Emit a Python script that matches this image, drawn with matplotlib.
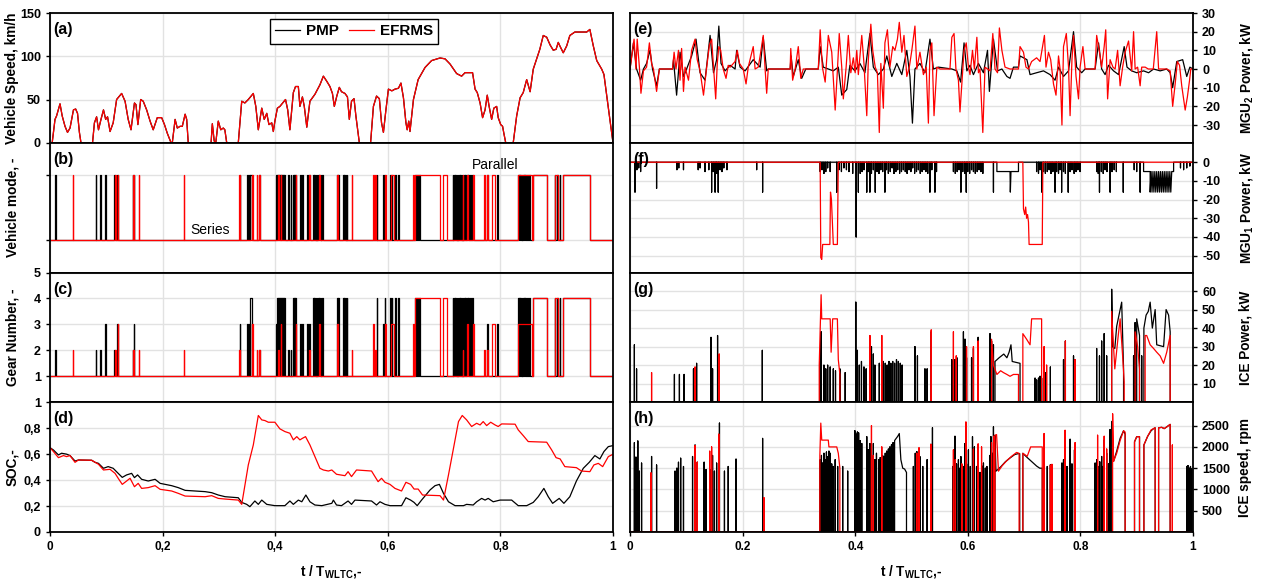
import numpy as np
import matplotlib
matplotlib.use("Agg")
import matplotlib.pyplot as plt

plt.rcParams["font.family"] = ["Liberation Sans", "DejaVu Sans"]
plt.rcParams["font.weight"] = "bold"
plt.rcParams["mathtext.fontset"] = "custom"
plt.rcParams["mathtext.rm"] = "Liberation Sans:bold"
plt.rcParams["mathtext.bf"] = "Liberation Sans:bold"
plt.rcParams["mathtext.default"] = "bf"
plt.rcParams["axes.unicode_minus"] = False

CYCLE_S = 1800.0  # WLTC duration, s

# ---------------- (a) vehicle speed, km/h (same for both strategies)
speed_s = [0, 7, 16, 21, 32, 39, 48, 56, 64, 75, 82, 88, 94, 99, 136, 142, 149, 155, 163, 171, 178, 184, 192, 202,
           213, 229, 240, 250, 259, 270, 275, 281, 290, 298, 309, 320, 330, 343, 357, 366, 375, 387, 391, 400, 407,
           416, 423, 432, 437, 442, 515, 519, 525, 530, 538, 546, 554, 559, 565, 602, 613, 623, 634, 650, 658, 666,
           677, 685, 693, 700, 709, 714, 719, 727, 735, 753, 760, 767, 778, 785, 794, 799, 807, 813, 821, 831, 847,
           863, 874, 885, 895, 903, 909, 917, 925, 932, 943, 951, 957, 964, 972, 978, 989, 1025, 1034, 1044, 1053,
           1060, 1066, 1074, 1082, 1093, 1103, 1114, 1122, 1130, 1138, 1142, 1147, 1151, 1162, 1177, 1199, 1220,
           1247, 1263, 1279, 1300, 1316, 1327, 1343, 1351, 1359, 1366, 1375, 1383, 1391, 1398, 1404, 1412, 1419,
           1428, 1433, 1441, 1447, 1451, 1457, 1481, 1492, 1503, 1513, 1524, 1535, 1545, 1556, 1566, 1577, 1588,
           1599, 1609, 1618, 1625, 1630, 1641, 1652, 1662, 1678, 1694, 1705, 1716, 1726, 1737, 1748, 1764, 1771,
           1780, 1790, 1800]
speed_kmh = [0, 0, 27, 31, 45, 31, 19, 12, 17, 38, 39, 34, 12, 0, 0, 23, 30, 15, 27, 38, 27, 30, 13, 23,
             50, 57, 48, 27, 15, 46, 44, 21, 50, 48, 38, 25, 15, 29, 29, 21, 11, 0, 0, 27, 17,
             19, 19, 33, 27, 0, 0, 22, 2, 0, 25, 15, 17, 15, 0, 0, 48, 46, 50, 57, 42, 15,
             40, 27, 34, 21, 23, 13, 25, 40, 42, 50, 38, 15, 58, 65, 65, 42, 53, 42, 18, 48, 56,
             67, 77, 71, 65, 57, 42, 54, 64, 59, 57, 53, 27, 48, 51, 31, 0, 0, 42, 54, 51,
             23, 12, 38, 62, 60, 62, 63, 69, 52, 23, 15, 25, 13, 50, 73, 87, 95,
             98, 97, 91, 80, 77, 81, 81, 81, 62, 58, 46, 29, 38, 55, 42, 27, 40,
             42, 29, 21, 19, 11, 0, 0, 31, 52, 58, 73, 59, 85, 97, 108, 124, 122,
             113, 107, 108, 116, 112, 104, 112, 124, 128, 128, 128, 128, 131, 112, 95, 85, 79,
             54, 27, 0]

# ---------------- (b)/(c) gear number intervals (start s, end s, gear); gear > 1 -> parallel mode
gear_pmp = [(16, 18, 2), (146, 148, 2), (160, 162, 2), (176, 178, 3), (206, 208, 2), (214, 217, 3), (264, 266, 2),
            (268, 270, 3), (607, 609, 3), (630, 632, 3), (636, 638, 3), (640, 646, 4), (668, 670, 2),
            (724, 726, 3), (727, 729, 4), (730, 732, 4), (733, 735, 4), (736, 738, 4), (739, 741, 4), (742, 744, 4),
            (745, 747, 4), (748, 750, 4), (761, 763, 2), (770, 772, 2), (777, 779, 4), (781, 783, 4), (784, 786, 4),
            (799, 801, 3), (806, 808, 3), (822, 824, 3), (828, 830, 3), (841, 843, 4), (845, 847, 4), (849, 851, 4),
            (853, 855, 4), (857, 859, 4), (861, 863, 4), (866, 868, 4), (870, 872, 4), (918, 920, 4), (922, 924, 4),
            (937, 939, 4), (941, 943, 4), (945, 947, 4), (949, 951, 4), (1045, 1047, 4), (1065, 1067, 3),
            (1070, 1072, 4), (1087, 1089, 4), (1093, 1095, 4), (1103, 1105, 4), (1113, 1115, 4), (1167, 1169, 4),
            (1174, 1176, 4), (1180, 1182, 4), (1288, 1290, 4), (1292, 1294, 4), (1296, 1298, 4), (1300, 1302, 4),
            (1304, 1306, 4), (1308, 1310, 4), (1312, 1314, 4), (1316, 1318, 4), (1320, 1322, 4), (1324, 1326, 4),
            (1328, 1330, 4), (1333, 1335, 4), (1338, 1340, 4), (1344, 1346, 4), (1350, 1352, 4), (1397, 1399, 3),
            (1429, 1431, 3), (1496, 1498, 4), (1500, 1502, 4), (1504, 1506, 4), (1508, 1510, 4), (1512, 1514, 4),
            (1516, 1518, 4), (1520, 1522, 4), (1526, 1528, 4), (1532, 1534, 4), (1544, 1589, 4), (1614, 1616, 4),
            (1622, 1624, 4), (1630, 1632, 4), (1640, 1726, 4)]
gear_efrms = [(73, 75, 2), (208, 210, 2), (216, 219, 3), (264, 267, 2), (283, 286, 2), (428, 430, 2),
              (605, 607, 2), (646, 648, 3), (661, 663, 2), (668, 670, 2), (730, 733, 2), (738, 740, 3),
              (786, 788, 3), (828, 830, 2), (860, 862, 3), (918, 921, 3), (965, 967, 2), (1033, 1035, 3),
              (1039, 1041, 2), (1071, 1075, 3), (1090, 1100, 3), (1160, 1165, 3), (1167, 1247, 4), (1256, 1269, 4),
              (1320, 1322, 2), (1333, 1335, 3), (1352, 1354, 3), (1388, 1390, 2), (1397, 1399, 2), (1413, 1423, 3),
              (1496, 1540, 3), (1544, 1589, 4), (1614, 1624, 4), (1640, 1726, 4)]

# ---------------- (d) battery SOC, -
soc_pmp_s = [0, 11, 27, 37, 53, 64, 80, 91, 133, 144, 155, 171, 186, 202, 218, 231, 245, 261, 270, 280, 293, 314,
             336, 352, 389, 410, 432, 496, 517, 538, 560, 602, 613, 629, 639, 655, 666, 677, 693, 719, 751, 767,
             778, 794, 805, 818, 831, 847, 869, 901, 906, 916, 932, 953, 964, 975, 1028, 1044, 1055, 1071, 1087,
             1124, 1138, 1153, 1164, 1174, 1188, 1215, 1231, 1245, 1258, 1274, 1295, 1322, 1332, 1353, 1364, 1380,
             1391, 1401, 1417, 1439, 1476, 1497, 1524, 1545, 1561, 1579, 1593, 1607, 1628, 1643, 1662, 1683, 1705,
             1724, 1742, 1758, 1771, 1785, 1800]
soc_pmp = [0.65, 0.632, 0.594, 0.607, 0.60, 0.589, 0.547, 0.555, 0.553, 0.537, 0.529, 0.491, 0.504, 0.491, 0.452,
           0.421, 0.44, 0.452, 0.419, 0.44, 0.406, 0.393, 0.406, 0.375, 0.357, 0.342, 0.321, 0.311, 0.303, 0.285,
           0.272, 0.264, 0.228, 0.213, 0.195, 0.239, 0.213, 0.246, 0.213, 0.203, 0.203, 0.239, 0.213, 0.246, 0.233,
           0.285, 0.233, 0.208, 0.203, 0.221, 0.246, 0.208, 0.203, 0.239, 0.213, 0.246, 0.239, 0.208, 0.233, 0.213,
           0.203, 0.203, 0.264, 0.246, 0.228, 0.203, 0.246, 0.324, 0.357, 0.367, 0.298, 0.233, 0.203, 0.203, 0.213,
           0.208, 0.233, 0.259, 0.246, 0.259, 0.233, 0.246, 0.246, 0.203, 0.203, 0.228, 0.272, 0.336, 0.272, 0.221,
           0.259, 0.221, 0.272, 0.393, 0.491, 0.537, 0.589, 0.563, 0.62, 0.658, 0.666]
soc_efrms_s = [0, 11, 27, 43, 53, 64, 80, 91, 133, 155, 171, 192, 208, 218, 231, 245, 256, 270, 282, 293, 314, 336,
               352, 389, 410, 432, 496, 517, 538, 560, 602, 613, 634, 650, 666, 677, 687, 698, 719, 735, 751, 767,
               778, 789, 799, 807, 817, 831, 847, 863, 874, 890, 901, 916, 943, 953, 964, 980, 1028, 1039, 1049,
               1060, 1071, 1087, 1103, 1124, 1138, 1153, 1164, 1177, 1191, 1247, 1258, 1274, 1290, 1306, 1318, 1332,
               1348, 1364, 1375, 1385, 1396, 1409, 1423, 1433, 1444, 1487, 1497, 1513, 1529, 1588, 1604, 1618, 1631,
               1646, 1683, 1699, 1726, 1739, 1753, 1767, 1785, 1800]
soc_efrms = [0.65, 0.62, 0.573, 0.589, 0.581, 0.589, 0.537, 0.555, 0.553, 0.522, 0.478, 0.483, 0.452, 0.414, 0.367,
             0.393, 0.414, 0.349, 0.375, 0.336, 0.342, 0.357, 0.329, 0.316, 0.298, 0.277, 0.272, 0.28, 0.259, 0.254,
             0.246, 0.213, 0.517, 0.671, 0.898, 0.864, 0.859, 0.846, 0.846, 0.795, 0.774, 0.761, 0.71, 0.735, 0.71,
             0.722, 0.735, 0.671, 0.581, 0.491, 0.478, 0.47, 0.478, 0.445, 0.434, 0.465, 0.427, 0.478, 0.47, 0.427,
             0.388, 0.414, 0.383, 0.367, 0.336, 0.316, 0.383, 0.367, 0.331, 0.331, 0.285, 0.28, 0.246, 0.44, 0.645,
             0.851, 0.898, 0.864, 0.813, 0.838, 0.825, 0.851, 0.82, 0.846, 0.825, 0.813, 0.833, 0.831, 0.787, 0.743,
             0.697, 0.692, 0.632, 0.573, 0.563, 0.504, 0.496, 0.47, 0.465, 0.517, 0.529, 0.504, 0.581, 0.599]

# ---------------- (e) MGU2 power, kW
mgu2_pmp_s = [0, 11, 21, 34, 43, 53, 64, 72, 85, 94, 136, 139, 149, 160, 171, 181, 197, 211, 224, 240, 256, 267, 277,
              284, 291, 304, 320, 336, 341, 352, 368, 394, 416, 426, 437, 442, 512, 515, 522, 538, 549, 562, 602,
              608, 618, 634, 650, 666, 677, 693, 703, 719, 735, 751, 767, 778, 794, 810, 821, 837, 853, 869, 885,
              895, 903, 911, 927, 943, 959, 970, 986, 1029, 1045, 1057, 1068, 1077, 1087, 1098, 1114, 1130, 1143,
              1149, 1162, 1175, 1189, 1205, 1215, 1226, 1242, 1247, 1258, 1269, 1279, 1300, 1322, 1343, 1359, 1370,
              1386, 1402, 1418, 1428, 1444, 1455, 1487, 1498, 1508, 1519, 1530, 1546, 1562, 1580, 1589, 1604, 1620,
              1642, 1658, 1674, 1695, 1716, 1727, 1735, 1748, 1767, 1780, 1790, 1800]
mgu2_pmp = [0, 14, 0, -6, 0, 3, 10, 0, -9, 0, 0, 5, -14, 9, -4, 0, 7, 16, -2, -6, 18, -2, 5,
            23, 3, -1, 2, 0, 10, 1, -1, 5, 1, 17, -1, 0, 0, 7, -4, 5, -5, 0, 0,
            12, 1, 0, -1, 1, -14, -11, 2, -1, 3, -2, 19, 1, -3, 0, 7, -4, 3, -3, 10,
            -4, -29, 0, 3, -2, 16, 0, 1, 0, -1, -7, 14, -1, 2, -3, 3, -2, 10,
            -12, 16, -1, 0, -4, -5, 1, 1, 7, 6, 5, -3, -2, -1, -3, -6, 1,
            -4, -1, 20, 1, -2, 0, 0, 14, 0, -3, 2, -1, -3, 12, 1, -1, -2,
            -1, -2, 0, -1, 0, -2, -10, 4, 5, -4, 1, 0]
mgu2_efrms_s = [0, 13, 19, 23, 30, 35, 43, 53, 62, 69, 75, 85, 94, 136, 141, 147, 155, 160, 165, 171, 176, 187, 197,
                208, 215, 224, 235, 243, 254, 261, 267, 274, 279, 284, 290, 298, 307, 314, 320, 336, 343, 350, 362,
                371, 378, 394, 400, 410, 416, 426, 432, 437, 442, 512, 514, 520, 528, 538, 546, 554, 602, 608, 615,
                624, 634, 645, 656, 663, 669, 677, 682, 691, 698, 706, 714, 720, 725, 730, 741, 748, 757, 762, 770,
                776, 784, 791, 797, 802, 810, 815, 823, 831, 840, 847, 855, 861, 869, 876, 885, 893, 901, 911, 917,
                927, 938, 947, 954, 959, 965, 972, 981, 991, 1023, 1029, 1036, 1042, 1050, 1055, 1061, 1068, 1075,
                1082, 1087, 1095, 1101, 1109, 1114, 1119, 1128, 1135, 1151, 1160, 1167, 1175, 1181, 1189, 1199, 1215,
                1242, 1247, 1258, 1266, 1274, 1284, 1300, 1311, 1325, 1330, 1338, 1345, 1354, 1362, 1370, 1375, 1381,
                1386, 1395, 1402, 1407, 1413, 1418, 1426, 1434, 1439, 1448, 1455, 1487, 1492, 1501, 1508, 1516, 1521,
                1527, 1535, 1544, 1551, 1559, 1567, 1575, 1583, 1594, 1604, 1610, 1615, 1623, 1631, 1636, 1647, 1657,
                1673, 1684, 1690, 1716, 1727, 1735, 1743, 1750, 1757, 1764, 1775, 1782, 1789, 1793, 1800]
mgu2_efrms = [0, 16, 0, 16, 1, -13, -1, 1, 14, 3, 0, -12, 0, 0, 9, 0, 10, -6, 11, -12, 1, -6, 10,
              16, 5, -1, -14, -2, 13, 16, 1, -16, 3, 12, 10, 0, -5, 2, 1, 4, 10, 3, 0,
              -8, 1, 12, 0, 1, 7, 18, 0, -13, 0, 0, 11, -6, 0, 12, -5, 0, 0, 21, 1,
              -7, 18, 9, -22, -1, 19, 1, -16, 1, 18, -2, 6, -2, 10, -3, 18, 3, -25, 5, 24,
              10, 1, -2, -34, 3, -21, 14, 21, 1, 12, 10, 16, 25, 9, 18, -4, 1, 10, 23, 0,
              9, -3, 1, -29, 10, 14, -25, 1, 0, 0, 17, 19, 0, -6, -23, -8, 10, 14,
              1, -3, 10, 0, 17, -2, 0, -34, 1, -1, 19, 0, -2, 22, 10, 1, 0,
              0, 12, 9, 1, 0, 4, 6, 4, 18, 1, 9, 5, -8, -14, 7, 0, -30,
              12, 19, 1, -25, 5, 18, -4, -16, 1, 12, 0, 0, 18, 9, 1, 12, 21,
              -16, 5, 1, 0, 10, -9, 1, 9, 15, -1, 20, 0, 1, -9, 1, 1, 0,
              0, 20, 0, 0, -1, -20, -8, 4, 2, -9, -22, -15, -6, 0, 0]

# ---------------- (f) MGU1 power, kW: pieces of (s, kW), zero between pieces
mgu1_pmp = [[(16, -16)], [(22, -4)], [(28, -3)], [(34, -5)], [(85, -14)], [(150, -4)], [(156, -3)], [(171, -4)],
            [(218, -4)], [(224, -3)], [(240, -5)], [(252, -4)], [(261, -16)], [(266, -5)], [(272, -16)],
            [(277, -6)], [(282, -16)], [(288, -4)], [(294, -5)], [(300, -3)], [(310, -4)], [(405, -4)],
            [(424, -16)], [(608, -5)], [(614, -4)], [(620, -6)], [(626, -5)], [(632, -3)], [(640, -5)],
            [(661, -16)], [(668, -4)], [(676, -5)], [(684, -3)], [(692, -4)], [(700, -5)], [(712, -6)],
            [(723, -40)], [(730, -16)], [(736, -6)], [(742, -5)], [(748, -4)], [(757, -16)], [(762, -5)],
            [(767, -16)], [(772, -6)], [(778, -4)], [(784, -16)], [(790, -5)], [(796, -6)], [(802, -4)],
            [(808, -5)], [(815, -16)], [(820, -4)], [(826, -6)], [(832, -5)], [(838, -3)], [(844, -6)],
            [(850, -5)], [(856, -4)], [(862, -6)], [(868, -5)], [(874, -4)], [(880, -5)], [(886, -6)],
            [(892, -4)], [(898, -5)], [(904, -3)], [(910, -6)], [(916, -5)], [(922, -4)], [(928, -6)],
            [(934, -5)], [(940, -4)], [(946, -5)], [(952, -6)], [(959, -16)], [(965, -4)], [(975, -16)],
            [(980, -5)], [(1034, -5)], [(1040, -6)], [(1046, -5)], [(1052, -4)], [(1058, -16)], [(1064, -5)],
            [(1070, -6)], [(1075, -16)], [(1080, -5)], [(1086, -6)], [(1092, -4)], [(1098, -5)], [(1104, -6)],
            [(1110, -5)], [(1116, -4)], [(1122, -5)], [(1128, -6)], [(1162, -16)],
            [(1173, -5), (1215, -5), (1216, -16), (1218, -5), (1242, -5)],
            [(1300, -5)], [(1306, -6)], [(1311, -4)], [(1317, -16)], [(1322, -5)], [(1328, -6)], [(1334, -5)],
            [(1340, -4)], [(1346, -6)], [(1352, -5)], [(1359, -16)], [(1364, -5)], [(1370, -6)], [(1375, -4)],
            [(1380, -16)], [(1386, -5)], [(1392, -6)], [(1401, -16)], [(1407, -5)], [(1413, -4)], [(1420, -6)],
            [(1426, -5)], [(1432, -4)], [(1439, -5)], [(1492, -5)], [(1497, -6)], [(1501, -16)], [(1507, -5)],
            [(1513, -6)], [(1519, -4)], [(1525, -5)], [(1535, -16)], [(1541, -5)], [(1548, -4)], [(1555, -5)],
            [(1577, -16)], [(1612, -4)], [(1620, -5)], [(1631, -16)],
            [(1642, -5), (1663, -5), (1663, -16), (1666, -5), (1669, -16), (1672, -5), (1675, -16), (1678, -5),
             (1681, -16), (1684, -5), (1687, -16), (1690, -5), (1693, -16), (1696, -5), (1699, -16), (1702, -5),
             (1705, -16), (1708, -5), (1711, -16), (1714, -5), (1717, -16), (1720, -5), (1723, -16), (1726, -5),
             (1729, -16), (1732, -5), (1738, -5)],
            [(1760, -3)], [(1770, -4)], [(1780, -3)], [(1790, -2)]]
mgu1_efrms = [[(608, 0), (610, -51), (613, -52), (616, -44), (639, -44), (641, -16), (644, -20), (650, -44),
               (663, -44), (666, 0)],
              [(1256, 0), (1258, -25), (1262, -28), (1265, -24), (1268, -30), (1271, -28), (1274, -32),
               (1276, -44), (1318, -44), (1320, 0)]]

# ---------------- (g) ICE power, kW
ice_pow_pmp = [[(14, 31)], [(21, 18)], [(142, 15)], [(158, 15)], [(173, 15)], [(203, 18)], [(213, 21)], [(259, 35)],
               [(264, 18)], [(280, 36)], [(423, 28)], [(608, 22)], [(611, 38)], [(620, 20)], [(626, 18)],
               [(632, 20)], [(640, 19)], [(650, 18)], [(657, 17)], [(671, 18)], [(688, 16)], [(722, 54)],
               [(727, 28)], [(733, 20)], [(740, 22)], [(748, 19)], [(755, 18)], [(767, 35)], [(772, 30)],
               [(778, 26)], [(783, 20)], [(797, 21)], [(805, 20)], [(810, 22)], [(816, 21)], [(822, 20)],
               [(828, 22)], [(834, 21)], [(840, 22)], [(846, 21)], [(852, 23)], [(858, 22)], [(864, 21)],
               [(870, 20)], [(911, 30)], [(919, 25)], [(943, 18)], [(950, 18)], [(963, 38)], [(1029, 23)],
               [(1034, 22)], [(1039, 23)], [(1045, 24)], [(1066, 38)], [(1071, 34)], [(1076, 24)], [(1092, 24)],
               [(1098, 29)], [(1113, 35)], [(1151, 37)], [(1156, 33)], [(1162, 31)],
               [(1167, 22), (1180, 24), (1195, 26), (1205, 24), (1212, 27), (1218, 31), (1222, 22), (1247, 21)],
               [(1295, 13)], [(1300, 12)], [(1306, 13)], [(1311, 14)], [(1316, 13)], [(1327, 16)], [(1344, 19)],
               [(1386, 23)], [(1392, 33)], [(1418, 25)], [(1423, 23)], [(1492, 29)], [(1501, 25)], [(1508, 33)],
               [(1516, 37)], [(1524, 25)],
               [(1540, 61), (1543, 30), (1550, 29), (1556, 41), (1567, 50), (1572, 54), (1578, 18)],
               [(1610, 25)], [(1615, 43)], [(1620, 45), (1629, 36)], [(1636, 25)],
               [(1643, 40), (1650, 47), (1657, 49), (1663, 54), (1670, 40), (1679, 50), (1684, 31), (1706, 30),
                (1714, 50), (1722, 47), (1727, 38)]]
ice_pow_efrms = [[(69, 16)], [(208, 19)], [(285, 26)],
                 [(605, 20), (611, 58), (613, 45), (640, 45), (643, 27), (648, 45), (663, 45), (666, 23), (671, 15)],
                 [(767, 36)], [(805, 36)], [(963, 39)], [(1034, 38)], [(1043, 25)], [(1076, 30)], [(1098, 30)],
                 [(1113, 33)],
                 [(1156, 34), (1162, 20), (1173, 15), (1185, 17), (1194, 16), (1205, 15), (1215, 14), (1226, 15),
                  (1242, 15)],
                 [(1256, 37), (1268, 34), (1279, 31), (1284, 45), (1316, 45)], [(1324, 30)], [(1332, 20)],
                 [(1392, 33)], [(1423, 23)],
                 [(1540, 49), (1546, 30), (1550, 18), (1561, 36), (1567, 45), (1575, 25), (1580, 11)],
                 [(1615, 38), (1623, 30), (1629, 18)],
                 [(1647, 36), (1652, 36), (1663, 31), (1674, 29), (1684, 27), (1695, 25), (1706, 21), (1716, 27),
                  (1727, 36)]]

# ---------------- (h) ICE speed, rpm
ice_spd_pmp = [[(14, 2100)], [(19, 1760)], [(25, 2140)], [(30, 1430)], [(37, 1620)], [(69, 1775)], [(85, 1575)],
               [(144, 1430)], [(150, 1500)], [(155, 1640)], [(162, 1735)], [(171, 1540)], [(200, 1775)],
               [(208, 2045)], [(215, 1640)], [(237, 1640)], [(243, 1466)], [(256, 1466)], [(264, 1800)],
               [(270, 1430)], [(277, 1620)], [(286, 2560)], [(302, 1430)], [(314, 1540)], [(339, 1713)],
               [(424, 2200)], [(608, 1700)], [(612, 1800)], [(616, 1620)], [(620, 1850)], [(624, 1700)],
               [(628, 1880)], [(632, 1770)], [(636, 1900)], [(640, 1850)], [(645, 1600)], [(650, 1540)],
               [(656, 1700)], [(664, 1540)], [(680, 1540)], [(696, 1430)], [(719, 2380)], [(723, 2300)],
               [(727, 2350)], [(731, 2330)], [(736, 2150)], [(741, 2080)], [(757, 2240)], [(762, 1930)],
               [(767, 2080)], [(772, 1800)], [(778, 2080)], [(783, 1700)], [(788, 1850)], [(795, 1700)],
               [(800, 1750)], [(806, 1800)], [(811, 1780)], [(816, 1850)], [(821, 1900)], [(826, 1950)],
               [(831, 2000)], [(836, 2050)], [(841, 2100)],
               [(846, 2150), (851, 2200), (856, 2250), (861, 2315), (866, 1700), (872, 1500), (878, 1480),
                (884, 1400)],
               [(906, 1540)], [(912, 1850)], [(917, 1890)], [(922, 1430)], [(927, 1770)], [(936, 1540)],
               [(950, 1700)], [(962, 2060)], [(967, 2450)], [(1032, 1540)], [(1036, 1700)], [(1039, 2250)],
               [(1044, 1600)], [(1050, 1700)], [(1055, 1500)], [(1058, 1770)], [(1062, 1550)], [(1066, 1540)],
               [(1071, 2080)], [(1076, 1600)], [(1082, 1930)], [(1088, 1540)], [(1095, 2240)], [(1101, 2000)],
               [(1108, 1540)], [(1119, 1400)], [(1125, 1550)], [(1130, 1620)], [(1136, 1500)], [(1141, 1540)],
               [(1151, 1800)], [(1154, 2240)], [(1158, 1850)], [(1162, 2470)],
               [(1167, 2275), (1170, 1430), (1185, 1530), (1200, 1650), (1215, 1740), (1230, 1820), (1240, 1840),
                (1246, 1840)],
               [(1256, 1850), (1260, 1820), (1270, 1750), (1285, 1650), (1300, 1550), (1310, 1500), (1318, 1500)],
               [(1324, 1750)], [(1334, 1540)], [(1344, 1580)], [(1349, 1560)], [(1381, 1620)], [(1386, 1700)],
               [(1391, 1650)], [(1397, 1540)], [(1407, 2180)], [(1413, 1600)], [(1421, 1930)], [(1487, 1620)],
               [(1492, 1700)], [(1497, 1540)], [(1502, 1650)], [(1508, 1775)], [(1512, 1540)], [(1516, 2160)],
               [(1524, 1850)], [(1530, 1600)], [(1535, 2410)],
               [(1540, 2600), (1546, 1660), (1556, 1900), (1567, 2200), (1578, 2380), (1583, 2300)],
               [(1613, 2120), (1620, 2240), (1629, 2240)],
               [(1643, 2045), (1655, 2250), (1666, 2380), (1674, 2430), (1679, 2450)],
               [(1690, 2450), (1700, 2460), (1708, 2430), (1716, 2470), (1727, 2530)],
               [(1780, 1540)], [(1784, 1560)], [(1788, 1500)], [(1792, 1540)], [(1796, 1480)]]
ice_spd_efrms = [[(67, 1390)], [(208, 2030)], [(215, 1640)], [(255, 1900)], [(261, 2000)], [(284, 2300)],
                 [(428, 810)],
                 [(607, 1800), (610, 2560), (613, 2160), (634, 2160), (636, 2000), (661, 2000), (666, 1850),
                  (671, 1500)],
                 [(772, 2500)], [(778, 1800)], [(805, 2000)], [(917, 1850)], [(924, 1980)], [(962, 2060)],
                 [(1034, 1930)], [(1040, 1700)], [(1061, 1600)], [(1074, 2585)], [(1098, 1950)], [(1113, 2070)],
                 [(1124, 2000)], [(1156, 2100)], [(1163, 2250)],
                 [(1167, 2275), (1172, 2290), (1178, 1430), (1190, 1560), (1205, 1680), (1220, 1780), (1236, 1870),
                  (1244, 1850)],
                 [(1256, 1850), (1262, 1820), (1270, 1780), (1281, 2000), (1318, 2000)],
                 [(1324, 2315)], [(1344, 1570)], [(1349, 1590)], [(1391, 2390)], [(1423, 2100)], [(1495, 2275)],
                 [(1516, 2250)], [(1524, 1950)],
                 [(1543, 2780), (1546, 1660), (1556, 1850), (1567, 2150), (1578, 2380), (1583, 2350)],
                 [(1613, 2120), (1620, 2240), (1629, 2240)],
                 [(1643, 2045), (1655, 2250), (1666, 2400), (1679, 2450)],
                 [(1690, 2450), (1700, 2460), (1708, 2430), (1716, 2470), (1727, 2530)], [(1734, 2045)]]

MODE_SERIES, MODE_PARALLEL = 1, 3
C_PMP, C_EFRMS = "black", "#ff0000"


def pieces_to_line(pieces, base=0.0):
    xs, ys = [0.0], [base]
    for piece in pieces:
        px = [p[0] for p in piece]
        py = [p[1] for p in piece]
        xs += [px[0]] + px + [px[-1]]
        ys += [base] + py + [base]
    xs.append(CYCLE_S)
    ys.append(base)
    return np.array(xs) / CYCLE_S, np.array(ys)


def gear_pieces(intervals):
    return [[(s, g), (e, g)] for s, e, g in intervals]


def mode_pieces(intervals):
    return [[(s, MODE_PARALLEL), (e, MODE_PARALLEL)] for s, e, g in intervals if g > 1]


fig = plt.figure(figsize=(12.61, 5.79), dpi=100)
gl = fig.add_gridspec(4, 1, left=50/1261, right=613/1261, top=1-13/579, bottom=1-532/579, hspace=0)
gr = fig.add_gridspec(4, 1, left=630/1261, right=1193/1261, top=1-13/579, bottom=1-532/579, hspace=0)
axl = [fig.add_subplot(gl[i]) for i in range(4)]
axr = [fig.add_subplot(gr[i]) for i in range(4)]

LW = 0.9
TICK_FS = 9
LAB_FS = 9.8

# (a)
t = np.array(speed_s) / CYCLE_S
axl[0].plot(t, speed_kmh, color=C_PMP, lw=LW, label="PMP")
axl[0].plot(t, speed_kmh, color=C_EFRMS, lw=LW, label="EFRMS")
axl[0].set_ylim(0, 150)
axl[0].set_yticks([0, 50, 100, 150])
axl[0].legend(loc="center", bbox_to_anchor=(0.54, 0.86), ncol=2, frameon=True, fancybox=False,
              edgecolor="black", framealpha=1, handlelength=1.6, columnspacing=0.7,
              handletextpad=0.4, borderpad=0.35, prop={"weight": "bold", "size": 11})
axl[0].get_legend().get_frame().set_linewidth(1.0)

# (b)
for inter, col in ((gear_pmp, C_PMP), (gear_efrms, C_EFRMS)):
    x, y = pieces_to_line(mode_pieces(inter), base=MODE_SERIES)
    axl[1].plot(x, y, color=col, lw=LW)
axl[1].set_ylim(0, 4)
axl[1].set_yticks([1, 3])
axl[1].set_yticklabels([])
axl[1].tick_params(axis="y", length=0)
axl[1].text(0.284, 1.3, "Series", fontsize=10, fontweight="normal", ha="center", va="center")
axl[1].text(0.79, 3.3, "Parallel", fontsize=10, fontweight="normal", ha="center", va="center")

# (c)
for inter, col in ((gear_pmp, C_PMP), (gear_efrms, C_EFRMS)):
    x, y = pieces_to_line(gear_pieces(inter), base=1)
    axl[2].plot(x, y, color=col, lw=LW)
axl[2].set_ylim(0, 5)
axl[2].set_yticks([1, 2, 3, 4, 5])

# (d)
axl[3].plot(np.array(soc_pmp_s) / CYCLE_S, soc_pmp, color=C_PMP, lw=LW)
axl[3].plot(np.array(soc_efrms_s) / CYCLE_S, soc_efrms, color=C_EFRMS, lw=LW)
axl[3].set_ylim(0, 1)
axl[3].set_yticks([0, 0.2, 0.4, 0.6, 0.8, 1])
axl[3].set_yticklabels(["0", "0,2", "0,4", "0,6", "0,8", "1"])

# (e)
axr[0].plot(np.array(mgu2_pmp_s) / CYCLE_S, mgu2_pmp, color=C_PMP, lw=LW)
axr[0].plot(np.array(mgu2_efrms_s) / CYCLE_S, mgu2_efrms, color=C_EFRMS, lw=LW)
axr[0].set_ylim(-39.5, 30)
axr[0].set_yticks([-30, -20, -10, 0, 10, 20, 30])

# (f)
x, y = pieces_to_line(mgu1_pmp)
axr[1].plot(x, y, color=C_PMP, lw=LW)
x, y = pieces_to_line(mgu1_efrms)
axr[1].plot(x, y, color=C_EFRMS, lw=LW)
axr[1].set_ylim(-59, 10.4)
axr[1].set_yticks([-50, -40, -30, -20, -10, 0])

# (g)
x, y = pieces_to_line(ice_pow_pmp)
axr[2].plot(x, y, color=C_PMP, lw=LW)
x, y = pieces_to_line(ice_pow_efrms)
axr[2].plot(x, y, color=C_EFRMS, lw=LW)
axr[2].set_ylim(0, 70)
axr[2].set_yticks([10, 20, 30, 40, 50, 60])

# (h)
x, y = pieces_to_line(ice_spd_pmp)
axr[3].plot(x, y, color=C_PMP, lw=LW)
x, y = pieces_to_line(ice_spd_efrms)
axr[3].plot(x, y, color=C_EFRMS, lw=LW)
axr[3].set_ylim(0, 3050)
axr[3].set_yticks([500, 1000, 1500, 2000, 2500])

left_labels = ["Vehicle Speed, km/h", "Vehicle mode, -", "Gear Number, -", "SOC,-"]
right_labels = ["MGU$_2$ Power, kW", "MGU$_1$ Power, kW", "ICE Power, kW", "ICE speed, rpm"]
xt = [0, 0.2, 0.4, 0.6, 0.8, 1]

for i, ax in enumerate(axl + axr):
    ax.set_xlim(0, 1)
    ax.set_xticks(xt)
    ax.grid(True, color="#e2e2e2", lw=1.0)
    ax.set_axisbelow(True)
    for sp in ax.spines.values():
        sp.set_linewidth(1.3)
    ax.tick_params(axis="both", labelsize=TICK_FS, width=1.0, length=3)
    ax.text(0.006, 0.93, "(" + "abcdefgh"[i] + ")", transform=ax.transAxes, fontsize=11.5,
            fontweight="bold", ha="left", va="top")
    bottom = ax in (axl[3], axr[3])
    ax.tick_params(axis="x", labelbottom=bottom, length=3 if bottom else 0, labelsize=8.5)

for ax, lab in zip(axl, left_labels):
    ax.set_ylabel(lab, fontsize=LAB_FS, fontweight="bold")
    ax.yaxis.set_label_coords(-0.055, 0.5)

for ax, lab in zip(axr, right_labels):
    ax.yaxis.tick_right()
    ax.yaxis.set_label_position("right")
    ax.set_ylabel(lab, fontsize=LAB_FS, fontweight="bold")
    ax.yaxis.set_label_coords(1.08, 0.5)

axl[3].set_xticklabels(["0", "0,2", "0,4", "0,6", "0,8", "1"])
axr[3].set_xticklabels(["0", "0.2", "0.4", "0.6", "0.8", "1"])
axl[3].set_xlabel(r"t / T$_{WLTC}$,-", fontsize=LAB_FS, fontweight="bold", labelpad=7)
axr[3].set_xlabel(r"t / T$_{WLTC}$,-", fontsize=LAB_FS, fontweight="bold", labelpad=7)

fig.savefig("out.png", dpi=100)
